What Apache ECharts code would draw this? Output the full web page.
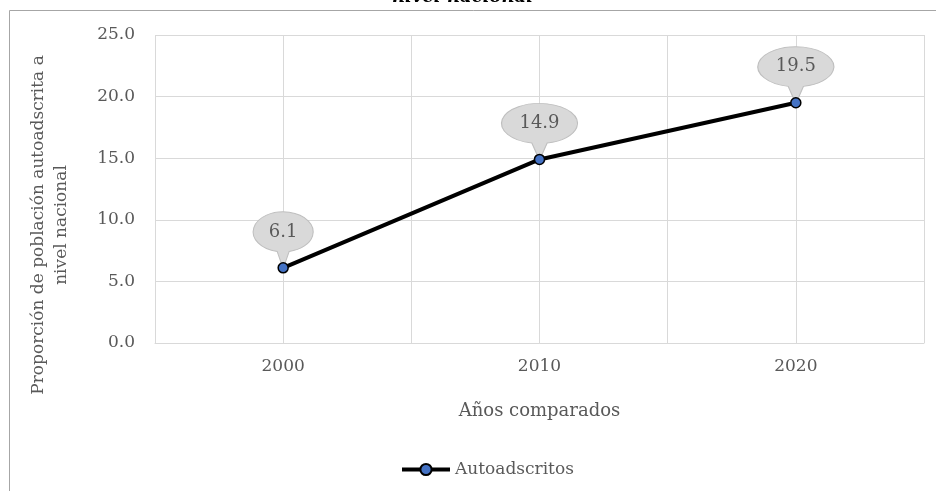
<!DOCTYPE html>
<html><head><meta charset="utf-8">
<script src="https://cdn.jsdelivr.net/npm/echarts@6/dist/echarts.min.js"></script>
<style>html,body{margin:0;padding:0;background:#fff}#c{width:936px;height:491px}</style>
</head><body><div id="c"></div>
<script>
const years = ['2000', '2010', '2020'];
const values = [6.1, 14.9, 19.5];
const yTicks = [0, 5, 10, 15, 20, 25];
const seriesName = 'Autoadscritos';
const titleText = 'nivel nacional';
const xTitle = 'Años comparados';
const yTitle = 'Proporción de población autoadscrita a\nnivel nacional';

const FONT = 'DejaVu Serif';
const GREY = '#595959';
const calloutPath = 'path://M24 39.6 A30 20 0 1 1 36 39.6 L31 54 L29 54 Z';

const chart = echarts.init(document.getElementById('c'), null, {renderer: 'canvas'});
chart.setOption({
  animation: false,
  backgroundColor: '#fff',
  title: {
    text: titleText, left: 387, top: -17,
    textStyle: {fontFamily: FONT, fontSize: 18, fontStyle: 'italic', fontWeight: 'bold', color: '#000'}
  },
  graphic: [{
    type: 'rect', silent: true,
    shape: {x: 9.5, y: 10.5, width: 1000, height: 1000},
    style: {fill: 'none', stroke: '#a6a6a6', lineWidth: 1}
  }],
  grid: {left: 155, right: 12, top: 35, bottom: 148, containLabel: false, outerBoundsMode: 'none'},
  xAxis: {
    type: 'value', min: 1995, max: 2025, interval: 5,
    name: xTitle, nameLocation: 'middle', nameGap: 59,
    nameTextStyle: {fontFamily: FONT, fontSize: 18, color: GREY},
    axisLine: {show: true, lineStyle: {color: '#d9d9d9', width: 1}},
    axisTick: {show: false},
    splitLine: {show: true, lineStyle: {color: '#d9d9d9', width: 1}},
    axisLabel: {
      margin: 15, fontFamily: FONT, fontSize: 17, color: GREY,
      formatter: v => years.indexOf(String(v)) >= 0 ? String(v) : ''
    }
  },
  yAxis: {
    type: 'value', min: yTicks[0], max: yTicks[yTicks.length - 1], interval: 5,
    name: yTitle, nameLocation: 'middle', nameGap: 82,
    nameTextStyle: {fontFamily: FONT, fontSize: 17, color: GREY, lineHeight: 23, align: 'center', padding: [0, 72, 0, 0]},
    axisLine: {show: false}, axisTick: {show: false},
    splitLine: {lineStyle: {color: '#d9d9d9', width: 1}},
    axisLabel: {margin: 20, fontFamily: FONT, fontSize: 17, color: GREY, formatter: v => v.toFixed(1)}
  },
  legend: {
    left: 395, top: 456, itemWidth: 48, itemHeight: 14, itemGap: 4,
    lineStyle: {width: 4, color: '#000'},
    textStyle: {fontFamily: FONT, fontSize: 17, color: GREY},
    data: [seriesName]
  },
  series: [{
    name: seriesName, type: 'line',
    data: years.map((y, i) => [Number(y), values[i]]),
    symbol: 'circle', symbolSize: 10,
    lineStyle: {color: '#000', width: 4},
    itemStyle: {color: '#4472C4', borderColor: '#000', borderWidth: 1.5},
    label: {show: false},
    markPoint: {
      z: 1,
      symbol: calloutPath,
      symbolOffset: [0, -29],
      itemStyle: {color: '#d9d9d9', borderColor: '#bfbfbf', borderWidth: 1},
      label: {
        show: true, position: 'inside', offset: [0, -7],
        fontFamily: FONT, fontSize: 18, color: GREY,
        formatter: p => Number(p.value).toFixed(1)
      },
      data: years.map((y, i) => ({
        coord: [Number(y), values[i]], value: values[i],
        symbolSize: [values[i].toFixed(1).length > 3 ? 76 : 60, 54]
      }))
    }
  }]
});
</script></body></html>
